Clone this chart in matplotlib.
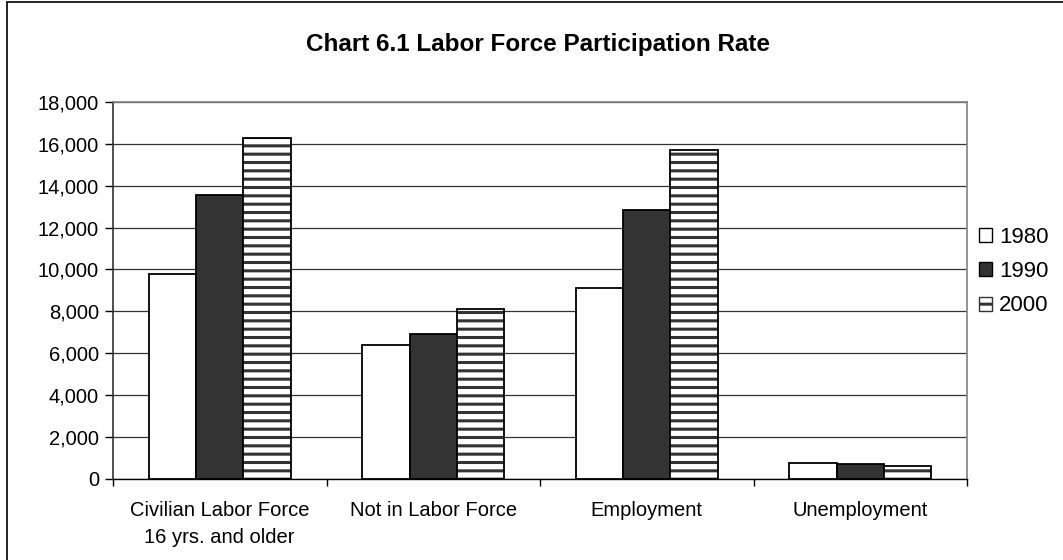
#!/usr/bin/env python3
# -*- coding: utf-8 -*-
"""
Chart 6.1 Labor Force Participation Rate - grouped bars for 1980/1990/2000
"""
###########################################################
### Imports
import numpy as np
import matplotlib
matplotlib.use("Agg")
import matplotlib.pyplot as plt
from matplotlib.patches import Patch, Rectangle
from matplotlib.ticker import FuncFormatter, FixedLocator

###########################################################
### Data
categories = ["Civilian Labor Force\n16 yrs. and older", "Not in Labor Force",
              "Employment", "Unemployment"]
years = ["1980", "1990", "2000"]
v1980 = [9800, 6400, 9100, 760]
v1990 = [13550, 6900, 12850, 690]
v2000 = [16300, 8100, 15700, 600]

###########################################################
### main
plt.rcParams['font.family'] = ['Liberation Sans', 'DejaVu Sans']
plt.rcParams['hatch.linewidth'] = 2.2

fig = plt.figure(figsize=(10.63, 5.6), dpi=100)
ax = fig.add_axes([0.1063, 0.1452, 0.8034, 0.6727])

x = np.arange(len(categories))
w = 1 / 4.5

# 1980 - white
ax.bar(x - w, v1980, w, color='white', edgecolor='black', linewidth=1.3, zorder=3)
# 1990 - dark grey
ax.bar(x, v1990, w, color='#333333', edgecolor='black', linewidth=1.3, zorder=3)
# 2000 - horizontal stripes, drawn in two passes so the outline stays black
ax.bar(x + w, v2000, w, color='white', edgecolor='#333333', hatch='--',
       linewidth=0, zorder=3)
ax.bar(x + w, v2000, w, color='none', edgecolor='black', linewidth=1.3, zorder=4)

ax.set_xlim(-0.5, 3.5)
ax.set_ylim(0, 18000)
ax.set_yticks(np.arange(0, 18001, 2000))
ax.yaxis.set_major_formatter(FuncFormatter(lambda v, p: f"{int(v):,}"))
ax.yaxis.grid(True, color='#333333', linewidth=0.9, zorder=0)

# category boundaries get the ticks, names sit between them
ax.xaxis.set_major_locator(FixedLocator(np.arange(-0.5, 4, 1)))
ax.xaxis.set_minor_locator(FixedLocator(x))
ax.set_xticklabels([])
ax.set_xticklabels(categories, minor=True, fontsize=14.5, linespacing=1.55)
ax.tick_params(axis='x', which='major', length=5, width=1, direction='out')
ax.tick_params(axis='x', which='minor', length=0, pad=16)
ax.tick_params(axis='y', length=6, width=1, direction='out', labelsize=14.5, pad=4)

for s in ['top', 'right']:
    ax.spines[s].set_color('#808080')
    ax.spines[s].set_linewidth(1.2)
ax.spines['left'].set_color('#333333')
ax.spines['bottom'].set_color('black')
ax.spines['left'].set_linewidth(1.2)
ax.spines['bottom'].set_linewidth(1.0)

fig.text(0.506, 0.921, "Chart 6.1 Labor Force Participation Rate",
         ha='center', va='center', fontsize=17.5, fontweight='bold')

handles = [Patch(facecolor='white', edgecolor='black', linewidth=1),
           Patch(facecolor='#333333', edgecolor='black', linewidth=1),
           Patch(facecolor='white', edgecolor='#333333', hatch='--', linewidth=1)]
fig.legend(handles, years, loc='center left', bbox_to_anchor=(0.921, 0.515),
           frameon=False, fontsize=16, handlelength=0.6, handleheight=0.6,
           handletextpad=0.3, labelspacing=0.6, borderaxespad=0, borderpad=0)

# chart area border
fig.patches.append(Rectangle((7 / 1063, -0.05), 1.05, 0.05 + 1 - 2 / 560,
                             transform=fig.transFigure, fill=False,
                             edgecolor='black', linewidth=1.2, clip_on=False))

plt.savefig("out.png", dpi=100)
